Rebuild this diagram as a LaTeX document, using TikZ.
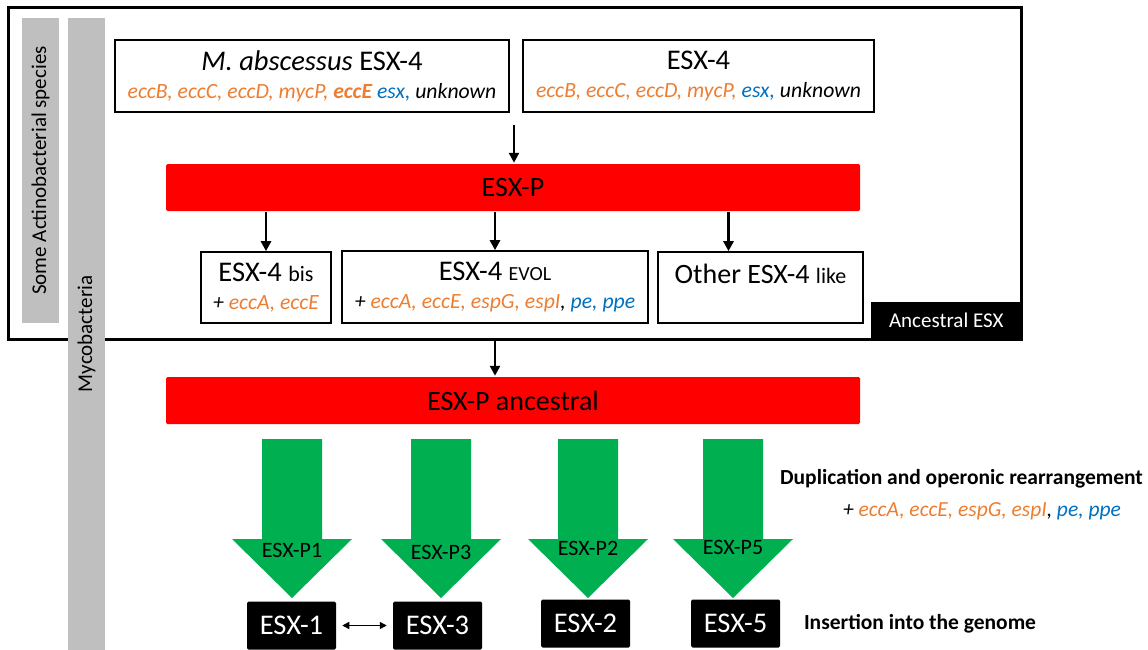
\documentclass[tikz,border=0pt]{standalone}
\usepackage{fontspec}
\setmainfont{Carlito}
\usetikzlibrary{arrows.meta,positioning}
\definecolor{geneorange}{HTML}{ED7D31}
\definecolor{geneblue}{HTML}{0070C0}
\definecolor{dupgreen}{HTML}{00B050}
\definecolor{cladegray}{HTML}{BFBFBF}

\begin{document}
\begin{tikzpicture}[x=1pt,y=-1pt,->,>={Triangle[width=10pt,length=10pt]},line width=2.5pt,
	box/.style={draw,line width=1.6pt,align=center,inner sep=0pt,minimum height=72pt,font=\fontsize{21.7}{28}\selectfont},
	bar/.style={fill=red,rounded corners=1.5pt,minimum width=694pt,minimum height=47pt,font=\fontsize{28}{30}\selectfont},
	esx/.style={fill=black,text=white,rounded corners=1.5pt,minimum width=89pt,minimum height=48pt,font=\fontsize{28.5}{30}\selectfont},
	clade/.style={fill=cladegray,rotate=90,minimum height=37pt,inner sep=0pt,font=\fontsize{21}{24}\selectfont},
	plabel/.style={font=\fontsize{22}{24}\selectfont},
	note/.style={font=\fontsize{21.5}{24}\selectfont}]

\useasboundingbox (0,0) rectangle (1148,650);

% ancestral ESX frame
\node[draw,line width=3pt,minimum width=1013pt,minimum height=331pt,inner sep=0pt](anc) at (514.5,173.5){};
\node[fill=black,text=white,minimum width=150pt,minimum height=37pt,inner sep=0pt,anchor=south east,font=\fontsize{21}{24}\selectfont](tag) at (anc.south east){Ancestral ESX};

\node[clade,minimum width=305pt](actino) at (40.5,170.5){Some Actinobacterial species};
\node[clade,minimum width=632pt](myco) at (86.5,334){Mycobacteria};

\node[box,minimum width=394pt](mabs) at (312,76){{\fontsize{28.5}{28}\selectfont\textit{M. abscessus} ESX-4}\\{\itshape\color{geneorange}eccB, eccC, eccD, mycP, \textbf{eccE} \color{geneblue}esx, \color{black}unknown}};
\node[box,minimum width=351pt](esx4) at (698.5,76){{\fontsize{28.5}{28}\selectfont ESX-4}\\{\itshape\color{geneorange}eccB, eccC, eccD, mycP, \color{geneblue}esx, \color{black}unknown}};
\coordinate(split) at (514,125);
\node[bar](espP) at (513,187.5){ESX-P};

\node[box,minimum width=130pt,minimum height=71pt](bis) at (266,287.5){{\fontsize{28.5}{28}\selectfont ESX-4 {\fontsize{22}{24}\selectfont bis}}\\{\itshape + \color{geneorange}eccA, eccE}};
\node[box,minimum width=306pt](evol) at (495,287){{\fontsize{28.5}{28}\selectfont ESX-4 {\fontsize{20}{24}\selectfont EVOL}}\\{\itshape + \color{geneorange}eccA, eccE, espG, espI\color{black}, \color{geneblue}pe, ppe}};
\node[box,minimum width=205pt,minimum height=71pt](other) at (760.5,287.5){{\fontsize{28}{28}\selectfont Other ESX-4 {\fontsize{22}{24}\selectfont like}}\\~};

\node[bar](ancP) at (513,400.5){ESX-P ancestral};

% duplications
\fill[dupgreen](262,439)--++(60,0)--++(0,100)--++(30,0)--++(-60,59)--++(-60,-59)--++(30,0)--cycle;
\fill[dupgreen](411,439)--++(60,0)--++(0,100)--++(30,0)--++(-60,59)--++(-60,-59)--++(30,0)--cycle;
\fill[dupgreen](558,439)--++(60,0)--++(0,100)--++(30,0)--++(-60,59)--++(-60,-59)--++(30,0)--cycle;
\fill[dupgreen](703,439)--++(60,0)--++(0,100)--++(30,0)--++(-60,59)--++(-60,-59)--++(30,0)--cycle;
\node[plabel](p1) at (292,550){ESX-P1};
\node[plabel](p3) at (441,552){ESX-P3};
\node[plabel](p2) at (588,548){ESX-P2};
\node[plabel](p5) at (733,547){ESX-P5};

\node[esx](e1) at (291.5,625.5){ESX-1};
\node[esx](e3) at (437.5,625.5){ESX-3};
\node[esx](e2) at (585.5,623.5){ESX-2};
\node[esx](e5) at (735.5,623.5){ESX-5};

\node[note](dup) at (961.5,479){\bfseries Duplication and operonic rearrangement};
\node[note](gain) at (982,511){\itshape + \color{geneorange}eccA, eccE, espG, espI\color{black}, \color{geneblue}pe, ppe};
\node[note](ins) at (920,624){\bfseries Insertion into the genome};

\path(split) edge (espP.north -| split)
	(espP.south -| bis) edge (bis)
	(espP.south -| evol) edge (evol)
	([xshift=-32pt]espP.south -| other) edge ([xshift=-32pt]other.north)
	(anc.south -| evol) edge (ancP.north -| evol)
	(e1) edge[<->,>={Triangle[width=7pt,length=7pt]},line width=1.5pt,shorten <=5pt,shorten >=5pt] (e3);

\end{tikzpicture}
\end{document}
